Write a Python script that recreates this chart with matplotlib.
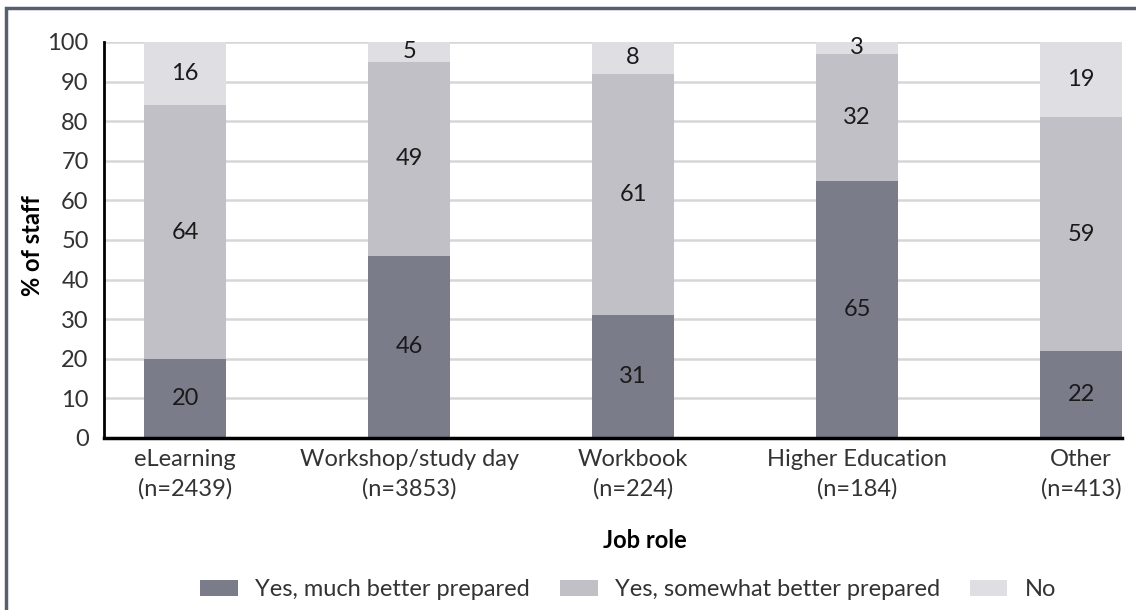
import matplotlib.pyplot as plt
from matplotlib.patches import Rectangle
import numpy as np

plt.rcParams['font.family'] = ['Lato', 'DejaVu Sans']

categories = ['eLearning\n(n=2439)', 'Workshop/study day\n(n=3853)', 'Workbook\n(n=224)',
              'Higher Education\n(n=184)', 'Other\n(n=413)']
much_better = [20, 46, 31, 65, 22]
somewhat_better = [64, 49, 61, 32, 59]
no = [16, 5, 8, 3, 19]
series_names = ['Yes, much better prepared', 'Yes, somewhat better prepared', 'No']
colors = ['#7a7d89', '#c1c0c6', '#dfdee3']

fs = 17
fig = plt.figure(figsize=(11.36, 6.10), dpi=100)
ax = fig.add_axes([104 / 1136, 1 - 438 / 610, (1122 - 104) / 1136, (438 - 42) / 610])

x = np.arange(len(categories))
width = 0.366
bottom = np.zeros(len(categories))
for vals, name, col in zip([much_better, somewhat_better, no], series_names, colors):
    bars = ax.bar(x, vals, width, bottom=bottom, color=col, label=name, zorder=2)
    ax.bar_label(bars, labels=[str(v) for v in vals], label_type='center',
                 fontsize=fs, color='#1a1a1a')
    bottom += np.array(vals)

ax.set_xlim(-0.362, 4.183)
ax.set_ylim(0, 100)
ax.set_yticks(range(0, 101, 10))
ax.grid(axis='y', color='#d6d6d6', linewidth=1.8, zorder=0)
ax.set_axisbelow(True)
ax.set_xticks(x)
ax.set_xticklabels(categories, fontsize=fs, color='#333333', linespacing=1.45)
ax.tick_params(axis='y', length=0, pad=11, labelsize=fs, labelcolor='#333333')
ax.tick_params(axis='x', length=0, pad=8)
for s in ['top', 'right']:
    ax.spines[s].set_visible(False)
ax.spines['left'].set_linewidth(2)
ax.spines['bottom'].set_linewidth(2.5)

fig.text(33 / 1136, 1 - 246 / 610, '% of staff', fontsize=fs, fontweight='bold',
         rotation=90, ha='center', va='center')
fig.text(645 / 1136, 1 - 541 / 610, 'Job role', fontsize=fs, fontweight='bold',
         ha='center', va='center')

fig.legend(loc='center', bbox_to_anchor=(628 / 1136, 1 - 590 / 610), ncol=3, frameon=False,
           fontsize=fs, handlelength=1.6, handleheight=0.68, handletextpad=0.72,
           columnspacing=1.27, labelcolor='#333333')

fig.add_artist(Rectangle((6 / 1136, -0.05), 1.2, 1 - 8 / 610 + 0.05, transform=fig.transFigure,
                         fill=False, edgecolor='#56606d', linewidth=2.5))

fig.savefig('out.png', dpi=100)
